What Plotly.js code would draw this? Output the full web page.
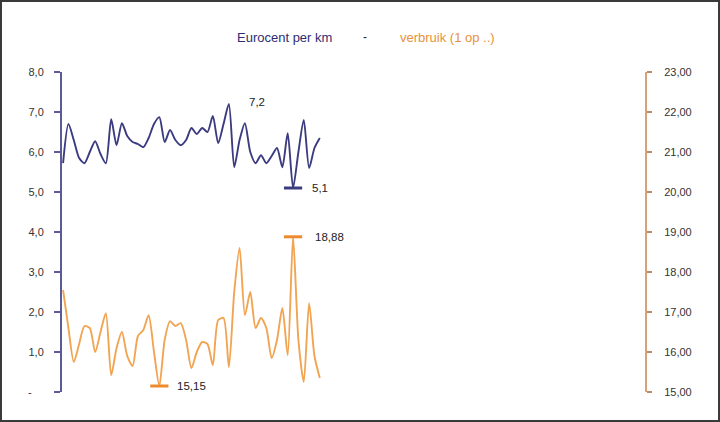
<!DOCTYPE html>
<html>
<head>
<meta charset="utf-8">
<script src="https://cdn.plot.ly/plotly-3.0.1.min.js"></script>
<style>
html,body{margin:0;padding:0;background:#fff;}
#wrap{position:relative;width:720px;height:422px;}
#chart{width:720px;height:422px;}
#frame{position:absolute;left:0;top:0;width:720px;height:422px;box-sizing:border-box;border:2px solid #3a3a3a;pointer-events:none;}
</style>
</head>
<body>
<div id="wrap"><div id="chart"></div><div id="frame"></div></div>
<script>
// Data
const periods = Array.from({length: 49}, (_, i) => i);
const eurocentPerKm = [5.72,6.70,6.30,5.85,5.72,6.00,6.27,5.95,5.72,6.82,6.17,6.72,6.40,6.25,6.20,6.12,6.35,6.70,6.87,6.25,6.55,6.30,6.17,6.30,6.60,6.45,6.60,6.50,6.90,6.22,6.70,7.20,5.62,6.30,6.72,6.00,5.72,5.92,5.72,5.90,6.10,5.62,6.47,5.10,6.00,6.80,5.60,6.10,6.35];
const verbruik = [17.55,16.60,15.75,16.20,16.65,16.60,16.00,16.50,16.97,15.42,16.10,16.50,15.90,15.65,16.40,16.55,16.92,16.00,15.15,16.30,16.77,16.65,16.72,16.30,15.60,16.00,16.25,16.20,15.67,16.80,16.85,15.62,17.50,18.60,16.92,17.50,16.60,16.85,16.60,15.85,16.30,17.10,15.92,18.88,16.30,15.25,17.22,15.90,15.35];
const leftTickVals = [0,1,2,3,4,5,6,7,8];
const leftTickText = ["-\u00a0\u00a0\u00a0\u00a0","1,0","2,0","3,0","4,0","5,0","6,0","7,0","8,0"];
const rightTickVals = [15,16,17,18,19,20,21,22,23];
const rightTickText = ["15,00","16,00","17,00","18,00","19,00","20,00","21,00","22,00","23,00"];
const seriesNames = ["Eurocent per km", "verbruik (1 op ..)"];

const BLUE = '#3b3b80';
const ORANGE = '#f1a553';

function argOf(arr, fn){ let k = 0; arr.forEach((v,i)=>{ if (fn(v, arr[k])) k = i; }); return k; }
const bMin = argOf(eurocentPerKm, (a,b)=>a<b);
const bMax = argOf(eurocentPerKm, (a,b)=>a>b);
const oMin = argOf(verbruik, (a,b)=>a<b);
const oMax = argOf(verbruik, (a,b)=>a>b);
const fmt = (v, d) => v.toFixed(d).replace('.', ',');

const traces = [
  {x: periods, y: eurocentPerKm, type:'scatter', mode:'lines', name: seriesNames[0],
   line:{color:BLUE, width:1.9, shape:'spline', smoothing:0.7}, yaxis:'y', hoverinfo:'skip'},
  {x: periods, y: verbruik, type:'scatter', mode:'lines', name: seriesNames[1],
   line:{color:ORANGE, width:1.9, shape:'spline', smoothing:0.7}, yaxis:'y2', hoverinfo:'skip'},
  {x:[periods[bMin]], y:[eurocentPerKm[bMin]], type:'scatter', mode:'markers', yaxis:'y',
   marker:{symbol:'line-ew-open', size:13, color:BLUE, line:{color:BLUE, width:3}}, hoverinfo:'skip'},
  {x:[periods[oMin], periods[oMax]], y:[verbruik[oMin], verbruik[oMax]], type:'scatter', mode:'markers', yaxis:'y2',
   marker:{symbol:'line-ew-open', size:13, color:'#ee8a2e', line:{color:'#ee8a2e', width:3}}, hoverinfo:'skip'}
];

const tickFont = {family:'"Liberation Sans", Arial, sans-serif', size:11, color:'#333'};
const annFont = {family:'"Liberation Sans", Arial, sans-serif', size:11.5, color:'#222'};

const layout = {
  width:720, height:422,
  margin:{l:62, r:75, t:72, b:30},
  paper_bgcolor:'#fff', plot_bgcolor:'#fff',
  showlegend:false,
  xaxis:{range:[-0.2,108.8], visible:false, fixedrange:true},
  yaxis:{range:[0,8], tickvals:leftTickVals, ticktext:leftTickText, showgrid:false, zeroline:false,
         showline:true, linecolor:'#5b5b98', linewidth:2, ticks:'outside', ticklen:6, tickwidth:1.5, tickcolor:'#5b5b98',
         tickfont:tickFont, ticklabelstandoff:8},
  yaxis2:{range:[15,23], overlaying:'y', side:'right', tickvals:rightTickVals, ticktext:rightTickText, showgrid:false, zeroline:false,
         showline:true, linecolor:'#d3a47c', linewidth:2, ticks:'outside', ticklen:5, tickwidth:1.5, tickcolor:'#b98b66',
         tickfont:tickFont, ticklabelstandoff:10},
  annotations:[
    {xref:'paper', yref:'paper', x:0.381, y:1.1375, text:seriesNames[0], showarrow:false, font:{family:annFont.family, size:13, color:'#2e2e70'}},
    {xref:'paper', yref:'paper', x:0.520, y:1.1375, text:'-', showarrow:false, font:{family:annFont.family, size:12, color:'#222'}},
    {xref:'paper', yref:'paper', x:0.662, y:1.1375, text:seriesNames[1], showarrow:false, font:{family:annFont.family, size:13, color:'#e8913a'}},
    {xref:'x', yref:'y', x:periods[bMax], y:eurocentPerKm[bMax], text:fmt(eurocentPerKm[bMax],1), showarrow:false, xanchor:'left', xshift:18, yshift:2, font:annFont},
    {xref:'x', yref:'y', x:periods[bMin], y:eurocentPerKm[bMin], text:fmt(eurocentPerKm[bMin],1), showarrow:false, xanchor:'left', xshift:17, font:annFont},
    {xref:'x', yref:'y2', x:periods[oMin], y:verbruik[oMin], text:fmt(verbruik[oMin],2), showarrow:false, xanchor:'left', xshift:16, font:annFont},
    {xref:'x', yref:'y2', x:periods[oMax], y:verbruik[oMax], text:fmt(verbruik[oMax],2), showarrow:false, xanchor:'left', xshift:20, font:annFont}
  ]
};

Plotly.newPlot('chart', traces, layout, {staticPlot:true, displayModeBar:false});
</script>
</body>
</html>
